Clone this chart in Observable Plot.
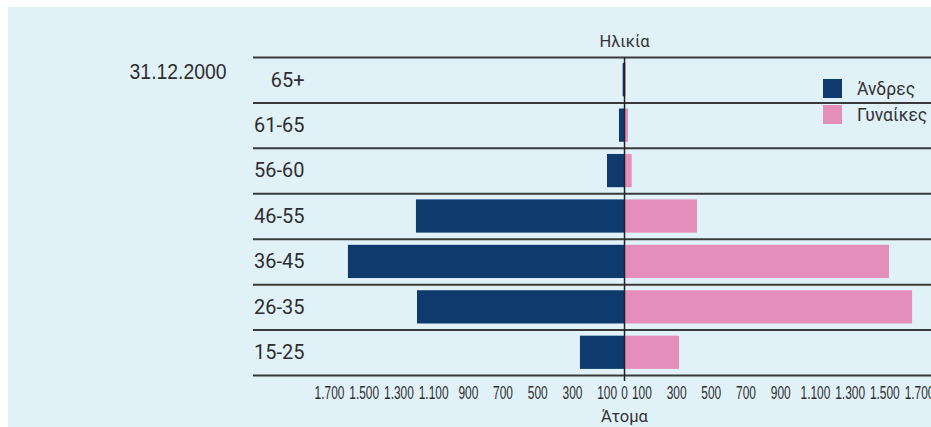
<!DOCTYPE html>
<html><head><meta charset="utf-8">
<script src="https://cdn.jsdelivr.net/npm/d3@7"></script>
<script src="https://cdn.jsdelivr.net/npm/@observablehq/plot@0.6"></script>
<style>
body{margin:0;background:#fff;}
#chart{position:absolute;left:8px;top:7px;width:923px;height:420px;background:#e0f1f8;overflow:hidden;}
#chart svg{position:absolute;left:0;top:0;}
#legend{position:absolute;left:815px;top:72px;font-family:Roboto,sans-serif;font-size:17.5px;color:#333;}
.lg-row{display:flex;align-items:center;height:19px;margin-bottom:7px;white-space:nowrap;}
.lg-sw{width:19px;height:19px;margin-right:15px;flex:none;}
</style></head><body><div id="chart"><div id="legend"></div></div>
<script>
const ageGroups = ["65+","61-65","56-60","46-55","36-45","26-35","15-25"];
const men = [8, 29, 98, 1199, 1591, 1193, 254];
const women = [10, 23, 44, 421, 1527, 1660, 317];
const seriesNames = ["Άνδρες","Γυναίκες"];
const seriesColors = ["#0e3a6e","#e48fbb"];
const xTicks = [-1700,-1500,-1300,-1100,-900,-700,-500,-300,-100,0,100,300,500,700,900,1100,1300,1500,1700];
const dateLabel = "31.12.2000";
const yTitle = "Ηλικία";
const xTitle = "Άτομα";

const rows = ageGroups.flatMap((g, i) => [
  {group: g, idx: i, sex: seriesNames[0], x1: -men[i], x2: 0},
  {group: g, idx: i, sex: seriesNames[1], x1: 0, x2: women[i]}
]);
const fmt = v => d3.format(",")(Math.abs(v)).replace(/,/g, ".");
const cond = "'Liberation Sans', Arial, sans-serif";

const plot = Plot.plot({
  width: 923, height: 420,
  marginLeft: 245, marginRight: 0, marginTop: 50, marginBottom: 52,
  style: {background: "transparent", color: "#333", fontFamily: "Roboto, sans-serif", overflow: "visible"},
  x: {domain: [-2138, 1769]},
  y: {domain: [0, ageGroups.length], reverse: true, axis: null},
  color: {domain: seriesNames, range: seriesColors},
  marks: [
    Plot.rectX(rows, {x1: "x1", x2: "x2", y1: "idx", y2: d => d.idx + 1, fill: "sex", insetTop: 6.1, insetBottom: 6.1}),
    Plot.ruleY(d3.range(ageGroups.length + 1), {stroke: "#3a3a3a", strokeWidth: 2}),
    Plot.ruleX([0], {y1: 0, y2: ageGroups.length, stroke: "#222", strokeWidth: 1.5, insetBottom: -6}),
    Plot.axisY(ageGroups.map((g, i) => i + 0.5), {anchor: "left", tickFormat: d => ageGroups[d - 0.5], tickSize: 0, tickPadding: 0, dx: 51, textAnchor: "end", fontSize: 20, fill: "#2e2e2e", label: null}),
    Plot.axisX(xTicks, {anchor: "bottom", tickFormat: fmt, tickSize: 0, tickPadding: 11, fontSize: 17.5, fontFamily: cond, fill: "#2e2e2e", label: null}),
    Plot.text([0], {x: d => d, text: () => yTitle, frameAnchor: "top", lineAnchor: "bottom", dy: -10.5, fontSize: 16.5, fill: "#333"}),
    Plot.text([0], {x: d => d, text: () => xTitle, frameAnchor: "bottom", lineAnchor: "bottom", dy: 46, fontSize: 16.5, fill: "#333"}),
    Plot.text([dateLabel], {text: d => d, frameAnchor: "top-left", textAnchor: "end", lineAnchor: "bottom", dx: -27, dy: 21, fontSize: 22.5, fontFamily: cond, fill: "#2e2e2e", className: "date"})
  ]
});
document.getElementById("chart").prepend(plot);

// condense the narrow-typeset texts
function squeeze(sel, k) {
  plot.querySelectorAll(sel).forEach(t => {
    const w = t.getComputedTextLength();
    t.setAttribute("textLength", (w * k).toFixed(1));
    t.setAttribute("lengthAdjust", "spacingAndGlyphs");
  });
}
squeeze('g[aria-label="x-axis tick label"] text', 0.68);
squeeze('g.date text', 0.86);

const legend = document.getElementById("legend");
seriesNames.forEach((n, i) => {
  const row = document.createElement("div");
  row.className = "lg-row";
  const sw = document.createElement("span");
  sw.className = "lg-sw";
  sw.style.background = seriesColors[i];
  const t = document.createElement("span");
  t.textContent = n;
  row.append(sw, t);
  legend.append(row);
});
</script>
</body></html>
